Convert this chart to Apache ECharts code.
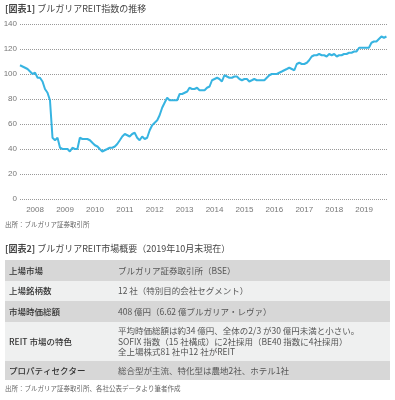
<!DOCTYPE html>
<html>
<head>
<meta charset="utf-8">
<script src="https://cdn.jsdelivr.net/npm/echarts@6/dist/echarts.min.js"></script>
<style>
html,body{margin:0;padding:0;background:#fff;}
#c{width:395px;height:400px;}
</style>
</head>
<body>
<div id="c"></div>
<script>
// ---- data ----
const chartTitle = '[図表1]';
const chartSubtitle = ' ブルガリアREIT指数の推移';
const chartSource = '出所：ブルガリア証券取引所';
const startYear = 2007, startMonth = 7; // first monthly observation
const indexValues = [
  107,106,105,104,102,100,                       // 2007 Jul-Dec
  101,97,97,94,88,85,79,49,47,49,41,40,          // 2008
  40,40,38,41,40,40,49,48,48,48,47,45,           // 2009
  43,42,40,38,39,40,41,41,42,44,47,50,           // 2010
  52,51,50,52,53,49,47,50,48,49,55,59,           // 2011
  61,63,67,73,77,81,79,79,79,79,84,84,           // 2012
  85,86,89,88,88,89,87,87,87,89,90,95,           // 2013
  96,97,96,94,99,98,97,97,98,98,96,95,           // 2014
  96,96,94,95,96,95,95,95,95,97,99,100,          // 2015
  100,100,101,102,103,104,105,104,103,108,109,108, // 2016
  108,109,111,114,115,115,116,115,115,114,116,115, // 2017
  116,114,115,115,116,116,117,117,118,118,121,121, // 2018
  121,121,121,125,126,126,128,130,129,130        // 2019 Jan-Oct
];
const yTicks = [0, 20, 40, 60, 80, 100, 120, 140];

const tableTitle = '[図表2]';
const tableSubtitle = ' ブルガリアREIT市場概要（2019年10月末現在）';
const tableLabels = ['上場市場', '上場銘柄数', '市場時価総額', 'REIT 市場の特色', 'プロパティセクター'];
const tableValues = [
  'ブルガリア証券取引所（BSE）',
  '12 社（特別目的会社セグメント）',
  '408 億円（6.62 億ブルガリア・レヴァ）',
  '平均時価総額は約34 億円、全体の2/3 が30 億円未満と小さい。\nSOFIX 指数（15 社構成）に2社採用（BE40 指数に4社採用）\n全上場株式81 社中12 社がREIT',
  '総合型が主流、特化型は農地2社、ホテル1社'
];
const tableSource = '出所：ブルガリア証券取引所、各社公表データより筆者作成';

// ---- build series ----
const seriesData = indexValues.map((v, i) => {
  const m = startMonth - 1 + i;
  const y = startYear + Math.floor(m / 12);
  const mm = (m % 12) + 1;
  return [y + '-' + (mm < 10 ? '0' + mm : mm) + '-01', v];
});

const FONT = '"Noto Sans CJK JP", "Noto Sans", sans-serif';

// ---- table graphics ----
const rowTops = [260, 281, 301, 322, 361];
const rowHeights = [21, 20, 21, 39, 19];
const rowFills = ['#d7d7d7', '#eff0f0', '#d7d7d7', '#eff0f0', '#d7d7d7'];
const graphics = [];
graphics.push({
  type: 'text', left: 5, top: 4,
  style: {
    text: '{b|' + chartTitle + '}' + chartSubtitle,
    fill: '#444', fontSize: 9, fontFamily: FONT,
    rich: { b: { fontWeight: 'bold', fontSize: 9, fontFamily: FONT, fill: '#444' } }
  }
});
graphics.push({
  type: 'text', left: 5, top: 221,
  style: { text: chartSource, fill: '#666', fontSize: 6.5, fontFamily: FONT }
});
graphics.push({
  type: 'text', left: 5, top: 244,
  style: {
    text: '{b|' + tableTitle + '}' + tableSubtitle,
    fill: '#444', fontSize: 9, fontFamily: FONT,
    rich: { b: { fontWeight: 'bold', fontSize: 9, fontFamily: FONT, fill: '#444' } }
  }
});
tableLabels.forEach((lab, i) => {
  graphics.push({
    type: 'rect',
    shape: { x: 5, y: rowTops[i], width: 385, height: rowHeights[i] },
    style: { fill: rowFills[i] }
  });
  graphics.push({
    type: 'text',
    style: {
      text: lab, x: 9, y: rowTops[i] + rowHeights[i] / 2,
      verticalAlign: 'middle', fill: '#333', fontSize: 8.5, fontWeight: 500, fontFamily: FONT
    }
  });
  graphics.push({
    type: 'text',
    style: {
      text: tableValues[i], x: 118, y: rowTops[i] + rowHeights[i] / 2,
      verticalAlign: 'middle', fill: '#555', fontSize: 8.5, lineHeight: 10.5, fontFamily: FONT
    }
  });
});
graphics.push({
  type: 'text', left: 5, top: 385,
  style: { text: tableSource, fill: '#666', fontSize: 6.5, fontFamily: FONT }
});

const chart = echarts.init(document.getElementById('c'), null, { renderer: 'canvas' });
chart.setOption({
  animation: false,
  backgroundColor: '#fff',
  textStyle: { fontFamily: FONT },
  grid: { left: 20, right: 7, top: 24, bottom: 201, containLabel: false, outerBoundsMode: 'none' },
  xAxis: {
    type: 'time',
    min: '2007-07-01',
    max: '2019-10-20',
    splitNumber: 12,
    axisLine: { show: false },
    axisTick: { show: false },
    splitLine: { show: false },
    axisLabel: {
      formatter: '{yyyy}',
      color: '#777', fontSize: 8, margin: 7,
      showMinLabel: false, showMaxLabel: false,
      fontFamily: 'Liberation Sans, sans-serif'
    }
  },
  yAxis: {
    type: 'value',
    min: yTicks[0], max: yTicks[yTicks.length - 1], interval: 20,
    axisLine: { show: false },
    axisTick: { show: false },
    axisLabel: { color: '#777', fontSize: 8, margin: 3, fontFamily: 'Liberation Sans, sans-serif' },
    splitLine: { lineStyle: { color: '#999', type: [1, 1], width: 1 } }
  },
  series: [{
    type: 'line',
    data: seriesData,
    showSymbol: false,
    symbol: 'none',
    lineStyle: { color: '#37b4e1', width: 2 },
    itemStyle: { color: '#37b4e1' }
  }],
  graphic: graphics
});
</script>
</body>
</html>
